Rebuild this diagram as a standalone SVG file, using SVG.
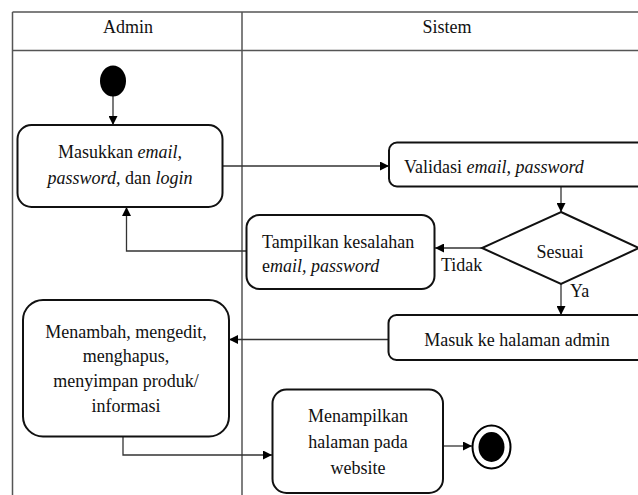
<svg xmlns="http://www.w3.org/2000/svg" width="638" height="495" viewBox="0 0 638 495">
<defs>
<marker id="arr" viewBox="0 0 10 10" refX="10" refY="5" markerWidth="9" markerHeight="9" markerUnits="userSpaceOnUse" orient="auto">
<path d="M0,0 L10,5 L0,10 Z" fill="#000"/>
</marker>
<style>
.lane{stroke:#555;stroke-width:1.5;fill:none}
.box{fill:#fff;stroke:#111;stroke-width:2}
.t{font-family:"Liberation Serif","Times New Roman",serif;font-size:18px;fill:#111}
.c{text-anchor:middle}
.i{font-style:italic}
.con{stroke:#333;stroke-width:1.3;fill:none}
</style>
</defs>
<rect width="638" height="495" fill="#fff"/>
<g id="lanes">
<line class="lane" x1="12.5" y1="12" x2="638" y2="12"/>
<line class="lane" x1="12.5" y1="50.5" x2="638" y2="50.5"/>
<line class="lane" x1="12.5" y1="12" x2="12.5" y2="495"/>
<line class="lane" x1="242" y1="12" x2="242" y2="495"/>
<text class="t c" x="128" y="33">Admin</text>
<text class="t c" x="447" y="33">Sistem</text>
</g>
<g id="connectors">
<line class="con" x1="113" y1="96" x2="113" y2="125" marker-end="url(#arr)"/>
<line class="con" x1="223" y1="166" x2="389" y2="166" marker-end="url(#arr)"/>
<line class="con" x1="561" y1="187" x2="561" y2="212" marker-end="url(#arr)"/>
<line class="con" x1="482" y1="248" x2="435" y2="248" marker-end="url(#arr)"/>
<polyline class="con" points="246,251 126.5,251 126.5,207" marker-end="url(#arr)"/>
<line class="con" x1="561" y1="284" x2="561" y2="315" marker-end="url(#arr)"/>
<line class="con" x1="389" y1="339.5" x2="229" y2="339.5" marker-end="url(#arr)"/>
<polyline class="con" points="123,437 123,455 272,455" marker-end="url(#arr)"/>
<line class="con" x1="443" y1="446" x2="472" y2="446" marker-end="url(#arr)"/>
<text class="t" x="441" y="271">Tidak</text>
<text class="t" x="570" y="297">Ya</text>
</g>
<g id="start">
<ellipse cx="113" cy="81" rx="13" ry="15.5" fill="#000"/>
</g>
<g id="masukkan">
<rect class="box" x="17.5" y="125" width="205" height="82" rx="14"/>
<text class="t c" x="120" y="158">Masukkan <tspan class="i">email,</tspan></text>
<text class="t c" x="120" y="184"><tspan class="i">password,</tspan> dan <tspan class="i">login</tspan></text>
</g>
<g id="validasi">
<rect class="box" x="389" y="142.5" width="270" height="44" rx="8"/>
<text class="t" x="404" y="173">Validasi <tspan class="i">email, password</tspan></text>
</g>
<g id="sesuai">
<polygon class="box" points="561,212 639,248 561,284 482,248"/>
<text class="t c" x="560" y="258">Sesuai</text>
</g>
<g id="tampilkan">
<rect class="box" x="246.5" y="215" width="188" height="74" rx="13"/>
<text class="t" x="262" y="248">Tampilkan kesalahan</text>
<text class="t" x="262" y="272">e<tspan class="i">mail, password</tspan></text>
</g>
<g id="masuk">
<rect class="box" x="388.5" y="315" width="270" height="45" rx="8"/>
<text class="t c" x="517" y="346">Masuk ke halaman admin</text>
</g>
<g id="menambah">
<rect class="box" x="23" y="300" width="206" height="136.5" rx="20"/>
<text class="t c" x="126" y="338">Menambah, mengedit,</text>
<text class="t c" x="126" y="362">menghapus,</text>
<text class="t c" x="126" y="387">menyimpan produk/</text>
<text class="t c" x="126" y="412">informasi</text>
</g>
<g id="menampilkan">
<rect class="box" x="272.5" y="389.5" width="170.5" height="103.5" rx="14"/>
<text class="t c" x="358" y="422">Menampilkan</text>
<text class="t c" x="358" y="448">halaman pada</text>
<text class="t c" x="358" y="474">website</text>
</g>
<g id="end">
<ellipse cx="491.5" cy="447" rx="19" ry="21.5" fill="#fff" stroke="#000" stroke-width="2"/>
<ellipse cx="491.5" cy="447" rx="13" ry="15" fill="#000"/>
</g>
</svg>
